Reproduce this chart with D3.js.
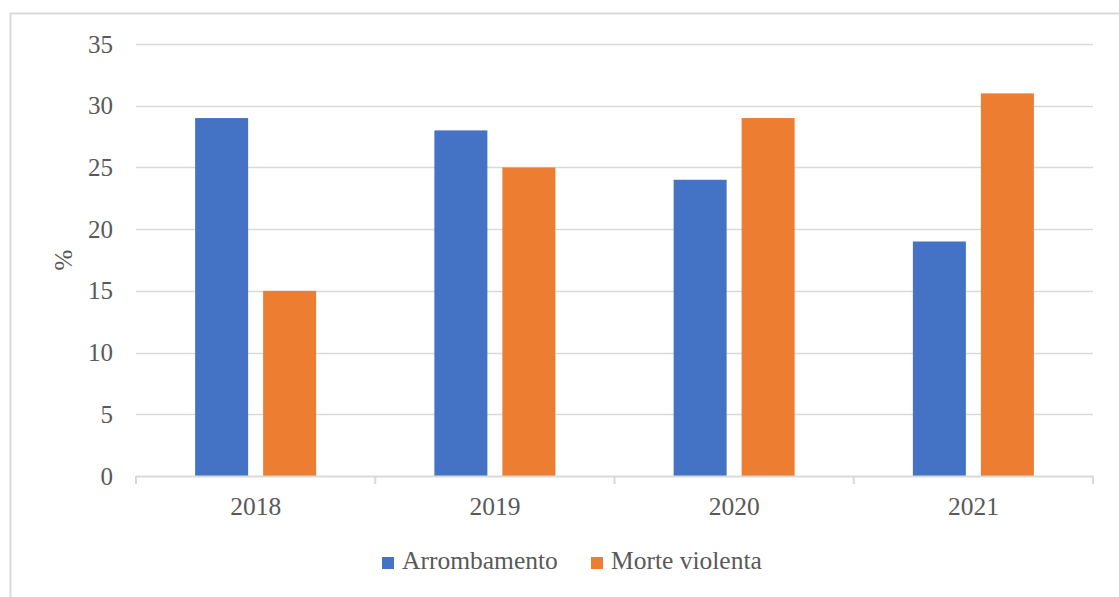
<!DOCTYPE html>
<html>
<head>
<meta charset="utf-8">
<script src="https://cdn.jsdelivr.net/npm/d3@7"></script>
<style>
  html, body { margin: 0; padding: 0; background: #fff; }
  svg { display: block; }
  text { font-family: "Liberation Serif", "Times New Roman", serif; fill: #595959; }
</style>
</head>
<body>
<svg id="chart" width="1119" height="597"></svg>
<script>
// Data
const years = ["2018", "2019", "2020", "2021"];
const seriesNames = ["Arrombamento", "Morte violenta"];
const arrombamento = [29, 28, 24, 19];
const morteViolenta = [15, 25, 29, 31];
const yTicks = [0, 5, 10, 15, 20, 25, 30, 35];
const colors = ["#4472C4", "#ED7D31"];

const svg = d3.select("#chart");
const W = 1119, H = 597;

// Chart frame
svg.append("rect")
  .attr("x", 10.5).attr("y", 13.5)
  .attr("width", W + 10).attr("height", H + 10)
  .attr("fill", "none").attr("stroke", "#d9d9d9").attr("stroke-width", 2);

const plot = { left: 136, right: 1093, top: 44, bottom: 476 };

const x = d3.scaleBand().domain(years).range([plot.left, plot.right]).padding(0);
const y = d3.scaleLinear().domain([0, 35]).range([plot.bottom, plot.top]);

// Gridlines
svg.append("g")
  .selectAll("line")
  .data(yTicks.filter(d => d > 0))
  .join("line")
  .attr("x1", plot.left).attr("x2", plot.right)
  .attr("y1", d => Math.round(y(d)) + 0.5).attr("y2", d => Math.round(y(d)) + 0.5)
  .attr("stroke", "#d9d9d9").attr("stroke-width", 1.5);

// Y axis labels
const yAxis = d3.axisLeft(y).tickValues(yTicks).tickSize(0).tickPadding(23);
const gy = svg.append("g").attr("transform", `translate(${plot.left},0)`).call(yAxis);
gy.select(".domain").remove();
gy.selectAll("text")
  .style("font-family", '"Liberation Serif", "Times New Roman", serif')
  .style("font-size", "25px").attr("fill", "#595959");

// Y axis title
svg.append("text")
  .attr("transform", `translate(72,${(plot.top + plot.bottom) / 2}) rotate(-90)`)
  .attr("text-anchor", "middle")
  .style("font-size", "25px")
  .text("%");

// Bars
const barW = 53, offset = 34;
const seriesData = [arrombamento, morteViolenta];
seriesData.forEach((vals, si) => {
  svg.append("g")
    .selectAll("rect")
    .data(years.map((yr, i) => ({ yr, v: vals[i] })))
    .join("rect")
    .attr("x", d => x(d.yr) + x.bandwidth() / 2 + (si === 0 ? -offset : offset) - barW / 2)
    .attr("y", d => y(d.v))
    .attr("width", barW)
    .attr("height", d => y(0) - y(d.v))
    .attr("fill", colors[si]);
});

// X axis with category separators
const xAxisG = svg.append("g").attr("transform", `translate(0,${plot.bottom})`);
xAxisG.append("line")
  .attr("x1", plot.left).attr("x2", plot.right)
  .attr("y1", 0.5).attr("y2", 0.5)
  .attr("stroke", "#d9d9d9").attr("stroke-width", 2);
const bounds = years.map(d => x(d)).concat([plot.right]);
xAxisG.selectAll("line.tick")
  .data(bounds)
  .join("line")
  .attr("class", "tick")
  .attr("x1", d => d).attr("x2", d => d)
  .attr("y1", 0).attr("y2", 8)
  .attr("stroke", "#d9d9d9").attr("stroke-width", 2);
xAxisG.selectAll("text")
  .data(years)
  .join("text")
  .attr("x", d => x(d) + x.bandwidth() / 2)
  .attr("y", 39)
  .attr("text-anchor", "middle")
  .style("font-size", "25.5px")
  .text(d => d);

// Legend
const legend = svg.append("g").attr("transform", "translate(382,557)");
const legendX = [0, 209];
seriesNames.forEach((name, i) => {
  const g = legend.append("g").attr("transform", `translate(${legendX[i]},0)`);
  g.append("rect").attr("width", 12).attr("height", 12).attr("fill", colors[i]);
  g.append("text").attr("x", 20).attr("y", 12).style("font-size", "25.5px").text(name);
});
</script>
</body>
</html>
